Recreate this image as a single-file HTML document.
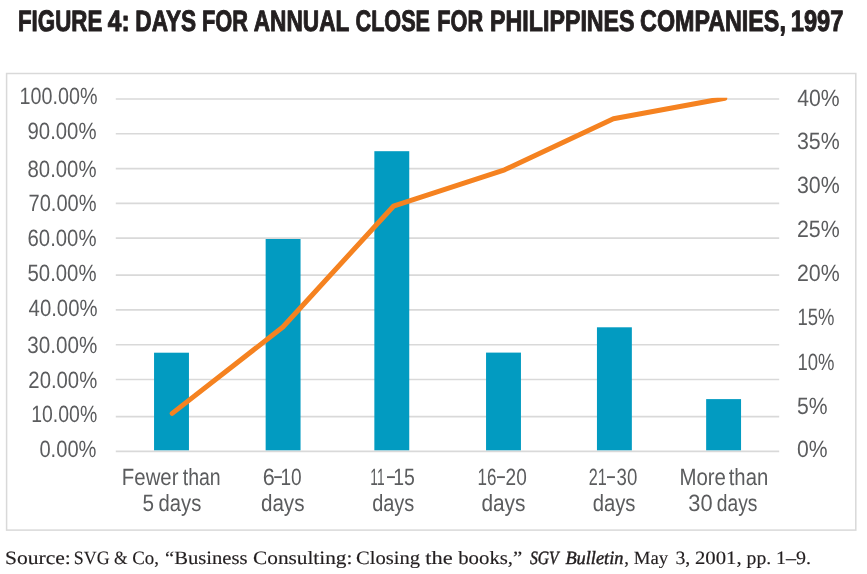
<!DOCTYPE html>
<html lang="en"><head><meta charset="utf-8"><title>Figure 4: Days for annual close for Philippines companies, 1997</title>
<style>html,body{margin:0;padding:0;background:#fff}svg{display:block}</style></head>
<body>
<svg width="867" height="574" viewBox="0 0 867 574" role="img" aria-label="Figure 4 chart">
<rect x="0" y="0" width="867" height="574" fill="#fff"/>
<defs><clipPath id="plot"><rect x="100" y="97.7" width="700" height="360"/></clipPath></defs>
<rect x="6.6" y="73.5" width="849.2" height="456.6" fill="none" stroke="#d9d9d9" stroke-width="1.5"/>
<g stroke="#d9d9d9" stroke-width="1.7">
<line x1="115.8" x2="779.2" y1="451.45" y2="451.45"/>
<line x1="115.8" x2="779.2" y1="416.70" y2="416.70"/>
<line x1="115.8" x2="779.2" y1="379.50" y2="379.50"/>
<line x1="115.8" x2="779.2" y1="344.75" y2="344.75"/>
<line x1="115.8" x2="779.2" y1="309.85" y2="309.85"/>
<line x1="115.8" x2="779.2" y1="275.20" y2="275.20"/>
<line x1="115.8" x2="779.2" y1="238.20" y2="238.20"/>
<line x1="115.8" x2="779.2" y1="203.30" y2="203.30"/>
<line x1="115.8" x2="779.2" y1="168.55" y2="168.55"/>
<line x1="115.8" x2="779.2" y1="133.75" y2="133.75"/>
<line x1="115.8" x2="779.2" y1="99.00" y2="99.00"/>
</g>
<g fill="#029bc1">
<rect x="154.05" y="352.70" width="34.9" height="97.60"/>
<rect x="265.65" y="239.00" width="34.9" height="211.30"/>
<rect x="374.35" y="151.20" width="34.9" height="299.10"/>
<rect x="486.05" y="352.60" width="34.9" height="97.70"/>
<rect x="596.95" y="327.30" width="34.9" height="123.00"/>
<rect x="706.15" y="399.10" width="34.9" height="51.20"/>
</g>
<polyline clip-path="url(#plot)" points="172.2,413.4 282.9,327.0 393.4,206.2 504.6,169.8 613.4,118.7 724.8,98.2" fill="none" stroke="#f58220" stroke-width="5.0" stroke-linejoin="round" stroke-linecap="round"/>
<text transform="translate(18.00 31.00) scale(0.7536 1.0000)" font-family="'Liberation Sans', sans-serif" font-size="29.6" fill="#231f20" text-rendering="geometricPrecision" font-weight="700" stroke="#231f20" stroke-width="1.0" stroke-linejoin="round" vector-effect="non-scaling-stroke">FIGURE</text>
<text transform="translate(107.80 31.00) scale(0.8292 1.0000)" font-family="'Liberation Sans', sans-serif" font-size="29.6" fill="#231f20" text-rendering="geometricPrecision" font-weight="700" stroke="#231f20" stroke-width="1.0" stroke-linejoin="round" vector-effect="non-scaling-stroke">4:</text>
<text transform="translate(135.28 31.00) scale(0.7648 1.0000)" font-family="'Liberation Sans', sans-serif" font-size="29.6" fill="#231f20" text-rendering="geometricPrecision" font-weight="700" stroke="#231f20" stroke-width="1.0" stroke-linejoin="round" vector-effect="non-scaling-stroke">DAYS</text>
<text transform="translate(201.92 31.00) scale(0.7377 1.0000)" font-family="'Liberation Sans', sans-serif" font-size="29.6" fill="#231f20" text-rendering="geometricPrecision" font-weight="700" stroke="#231f20" stroke-width="1.0" stroke-linejoin="round" vector-effect="non-scaling-stroke">FOR</text>
<text transform="translate(253.74 31.00) scale(0.7657 1.0000)" font-family="'Liberation Sans', sans-serif" font-size="29.6" fill="#231f20" text-rendering="geometricPrecision" font-weight="700" stroke="#231f20" stroke-width="1.0" stroke-linejoin="round" vector-effect="non-scaling-stroke">ANNUAL</text>
<text transform="translate(355.51 31.00) scale(0.7311 1.0000)" font-family="'Liberation Sans', sans-serif" font-size="29.6" fill="#231f20" text-rendering="geometricPrecision" font-weight="700" stroke="#231f20" stroke-width="1.0" stroke-linejoin="round" vector-effect="non-scaling-stroke">CLOSE</text>
<text transform="translate(437.22 31.00) scale(0.7344 1.0000)" font-family="'Liberation Sans', sans-serif" font-size="29.6" fill="#231f20" text-rendering="geometricPrecision" font-weight="700" stroke="#231f20" stroke-width="1.0" stroke-linejoin="round" vector-effect="non-scaling-stroke">FOR</text>
<text transform="translate(490.05 31.00) scale(0.7848 1.0000)" font-family="'Liberation Sans', sans-serif" font-size="29.6" fill="#231f20" text-rendering="geometricPrecision" font-weight="700" stroke="#231f20" stroke-width="1.0" stroke-linejoin="round" vector-effect="non-scaling-stroke">PHILIPPINES</text>
<text transform="translate(640.08 31.00) scale(0.7869 1.0000)" font-family="'Liberation Sans', sans-serif" font-size="29.6" fill="#231f20" text-rendering="geometricPrecision" font-weight="700" stroke="#231f20" stroke-width="1.0" stroke-linejoin="round" vector-effect="non-scaling-stroke">COMPANIES,</text>
<text transform="translate(790.73 31.00) scale(0.8010 1.0000)" font-family="'Liberation Sans', sans-serif" font-size="29.6" fill="#231f20" text-rendering="geometricPrecision" font-weight="700" stroke="#231f20" stroke-width="1.0" stroke-linejoin="round" vector-effect="non-scaling-stroke">1997</text>
<text transform="translate(19.60 104.00) scale(0.8391 1.0000)" font-family="'Liberation Sans', sans-serif" font-size="23.5" fill="#5b5c5e" text-rendering="geometricPrecision" >100.00%</text>
<text transform="translate(27.53 139.00) scale(0.8654 1.0000)" font-family="'Liberation Sans', sans-serif" font-size="23.5" fill="#5b5c5e" text-rendering="geometricPrecision" >90.00%</text>
<text transform="translate(27.53 177.00) scale(0.8654 1.0000)" font-family="'Liberation Sans', sans-serif" font-size="23.5" fill="#5b5c5e" text-rendering="geometricPrecision" >80.00%</text>
<text transform="translate(28.55 211.00) scale(0.8526 1.0000)" font-family="'Liberation Sans', sans-serif" font-size="23.5" fill="#5b5c5e" text-rendering="geometricPrecision" >70.00%</text>
<text transform="translate(27.53 246.00) scale(0.8654 1.0000)" font-family="'Liberation Sans', sans-serif" font-size="23.5" fill="#5b5c5e" text-rendering="geometricPrecision" >60.00%</text>
<text transform="translate(27.53 281.00) scale(0.8654 1.0000)" font-family="'Liberation Sans', sans-serif" font-size="23.5" fill="#5b5c5e" text-rendering="geometricPrecision" >50.00%</text>
<text transform="translate(28.62 316.00) scale(0.8643 1.0000)" font-family="'Liberation Sans', sans-serif" font-size="23.5" fill="#5b5c5e" text-rendering="geometricPrecision" >40.00%</text>
<text transform="translate(27.32 353.00) scale(0.8769 1.0000)" font-family="'Liberation Sans', sans-serif" font-size="23.5" fill="#5b5c5e" text-rendering="geometricPrecision" >30.00%</text>
<text transform="translate(28.34 388.00) scale(0.8641 1.0000)" font-family="'Liberation Sans', sans-serif" font-size="23.5" fill="#5b5c5e" text-rendering="geometricPrecision" >20.00%</text>
<text transform="translate(31.22 422.00) scale(0.8276 1.0000)" font-family="'Liberation Sans', sans-serif" font-size="23.5" fill="#5b5c5e" text-rendering="geometricPrecision" >10.00%</text>
<text transform="translate(39.44 457.00) scale(0.8554 1.0000)" font-family="'Liberation Sans', sans-serif" font-size="23.5" fill="#5b5c5e" text-rendering="geometricPrecision" >0.00%</text>
<text transform="translate(797.20 106.00) scale(0.9022 1.0000)" font-family="'Liberation Sans', sans-serif" font-size="23.5" fill="#5b5c5e" text-rendering="geometricPrecision" >40%</text>
<text transform="translate(796.89 149.00) scale(0.9088 1.0000)" font-family="'Liberation Sans', sans-serif" font-size="23.5" fill="#5b5c5e" text-rendering="geometricPrecision" >35%</text>
<text transform="translate(796.89 193.00) scale(0.9088 1.0000)" font-family="'Liberation Sans', sans-serif" font-size="23.5" fill="#5b5c5e" text-rendering="geometricPrecision" >30%</text>
<text transform="translate(796.89 237.00) scale(0.9088 1.0000)" font-family="'Liberation Sans', sans-serif" font-size="23.5" fill="#5b5c5e" text-rendering="geometricPrecision" >25%</text>
<text transform="translate(796.89 281.00) scale(0.9088 1.0000)" font-family="'Liberation Sans', sans-serif" font-size="23.5" fill="#5b5c5e" text-rendering="geometricPrecision" >20%</text>
<text transform="translate(797.39 325.00) scale(0.7858 1.0000)" font-family="'Liberation Sans', sans-serif" font-size="23.5" fill="#5b5c5e" text-rendering="geometricPrecision" >15%</text>
<text transform="translate(797.39 370.00) scale(0.7858 1.0000)" font-family="'Liberation Sans', sans-serif" font-size="23.5" fill="#5b5c5e" text-rendering="geometricPrecision" >10%</text>
<text transform="translate(796.90 414.00) scale(0.9000 1.0000)" font-family="'Liberation Sans', sans-serif" font-size="23.5" fill="#5b5c5e" text-rendering="geometricPrecision" >5%</text>
<text transform="translate(796.90 457.00) scale(0.9000 1.0000)" font-family="'Liberation Sans', sans-serif" font-size="23.5" fill="#5b5c5e" text-rendering="geometricPrecision" >0%</text>
<text transform="translate(262.68 485.00) scale(0.9182 1.0000)" font-family="'Liberation Sans', sans-serif" font-size="23.5" fill="#5b5c5e" text-rendering="geometricPrecision" >6</text>
<text transform="translate(274.20 484.00) scale(0.5846 1.1500)" font-family="'Liberation Sans', sans-serif" font-size="23.5" fill="#5b5c5e" text-rendering="geometricPrecision" >–</text>
<text transform="translate(280.45 485.00) scale(0.8113 1.0000)" font-family="'Liberation Sans', sans-serif" font-size="23.5" fill="#5b5c5e" text-rendering="geometricPrecision" >10</text>
<text transform="translate(370.32 485.00) scale(0.5862 1.0000)" font-family="'Liberation Sans', sans-serif" font-size="23.5" fill="#5b5c5e" text-rendering="geometricPrecision" >11</text>
<text transform="translate(386.90 484.00) scale(0.6077 1.1500)" font-family="'Liberation Sans', sans-serif" font-size="23.5" fill="#5b5c5e" text-rendering="geometricPrecision" >–</text>
<text transform="translate(393.22 485.00) scale(0.8282 1.0000)" font-family="'Liberation Sans', sans-serif" font-size="23.5" fill="#5b5c5e" text-rendering="geometricPrecision" >15</text>
<text transform="translate(477.49 485.00) scale(0.7243 1.0000)" font-family="'Liberation Sans', sans-serif" font-size="23.5" fill="#5b5c5e" text-rendering="geometricPrecision" >16</text>
<text transform="translate(496.90 484.00) scale(0.6077 1.1500)" font-family="'Liberation Sans', sans-serif" font-size="23.5" fill="#5b5c5e" text-rendering="geometricPrecision" >–</text>
<text transform="translate(505.59 485.00) scale(0.8096 1.0000)" font-family="'Liberation Sans', sans-serif" font-size="23.5" fill="#5b5c5e" text-rendering="geometricPrecision" >20</text>
<text transform="translate(588.71 485.00) scale(0.6875 1.0000)" font-family="'Liberation Sans', sans-serif" font-size="23.5" fill="#5b5c5e" text-rendering="geometricPrecision" >21</text>
<text transform="translate(606.90 484.00) scale(0.6077 1.1500)" font-family="'Liberation Sans', sans-serif" font-size="23.5" fill="#5b5c5e" text-rendering="geometricPrecision" >–</text>
<text transform="translate(616.61 485.00) scale(0.7932 1.0000)" font-family="'Liberation Sans', sans-serif" font-size="23.5" fill="#5b5c5e" text-rendering="geometricPrecision" >30</text>
<text transform="translate(121.87 485.00) scale(0.8667 1.0000)" font-family="'Liberation Sans', sans-serif" font-size="23.5" fill="#5b5c5e" text-rendering="geometricPrecision" >Fewer</text>
<text transform="translate(182.72 485.00) scale(0.8295 1.0000)" font-family="'Liberation Sans', sans-serif" font-size="23.5" fill="#5b5c5e" text-rendering="geometricPrecision" >than</text>
<text transform="translate(142.52 511.00) scale(0.8818 1.0000)" font-family="'Liberation Sans', sans-serif" font-size="23.5" fill="#5b5c5e" text-rendering="geometricPrecision" >5</text>
<text transform="translate(158.54 511.00) scale(0.8604 1.0000)" font-family="'Liberation Sans', sans-serif" font-size="23.5" fill="#5b5c5e" text-rendering="geometricPrecision" >days</text>
<text transform="translate(260.92 511.00) scale(0.8771 1.0000)" font-family="'Liberation Sans', sans-serif" font-size="23.5" fill="#5b5c5e" text-rendering="geometricPrecision" >days</text>
<text transform="translate(372.15 511.00) scale(0.8500 1.0000)" font-family="'Liberation Sans', sans-serif" font-size="23.5" fill="#5b5c5e" text-rendering="geometricPrecision" >days</text>
<text transform="translate(481.41 511.00) scale(0.8875 1.0000)" font-family="'Liberation Sans', sans-serif" font-size="23.5" fill="#5b5c5e" text-rendering="geometricPrecision" >days</text>
<text transform="translate(592.64 511.00) scale(0.8625 1.0000)" font-family="'Liberation Sans', sans-serif" font-size="23.5" fill="#5b5c5e" text-rendering="geometricPrecision" >days</text>
<text transform="translate(679.46 485.00) scale(0.8684 1.0000)" font-family="'Liberation Sans', sans-serif" font-size="23.5" fill="#5b5c5e" text-rendering="geometricPrecision" >More</text>
<text transform="translate(728.71 485.00) scale(0.8636 1.0000)" font-family="'Liberation Sans', sans-serif" font-size="23.5" fill="#5b5c5e" text-rendering="geometricPrecision" >than</text>
<text transform="translate(688.37 511.00) scale(0.9288 1.0000)" font-family="'Liberation Sans', sans-serif" font-size="23.5" fill="#5b5c5e" text-rendering="geometricPrecision" >30</text>
<text transform="translate(716.78 511.00) scale(0.8187 1.0000)" font-family="'Liberation Sans', sans-serif" font-size="23.5" fill="#5b5c5e" text-rendering="geometricPrecision" >days</text>
<text transform="translate(4.95 564.00) scale(1.1473 1.0000)" font-family="'Liberation Serif', serif" font-size="18.8" fill="#231f20" text-rendering="geometricPrecision" stroke="#231f20" stroke-width="0.15">Source:</text>
<text transform="translate(73.75 564.00) scale(0.9528 1.0000)" font-family="'Liberation Serif', serif" font-size="18.8" fill="#231f20" text-rendering="geometricPrecision" stroke="#231f20" stroke-width="0.15">SVG</text>
<text transform="translate(113.88 564.00) scale(0.9293 1.0000)" font-family="'Liberation Serif', serif" font-size="18.8" fill="#231f20" text-rendering="geometricPrecision" stroke="#231f20" stroke-width="0.15">&amp;</text>
<text transform="translate(132.13 564.00) scale(1.0040 1.0000)" font-family="'Liberation Serif', serif" font-size="18.8" fill="#231f20" text-rendering="geometricPrecision" stroke="#231f20" stroke-width="0.15">Co,</text>
<text transform="translate(164.97 564.00) scale(1.0986 1.0000)" font-family="'Liberation Serif', serif" font-size="18.8" fill="#231f20" text-rendering="geometricPrecision" stroke="#231f20" stroke-width="0.15">“Business</text>
<text transform="translate(253.04 564.00) scale(1.1335 1.0000)" font-family="'Liberation Serif', serif" font-size="18.8" fill="#231f20" text-rendering="geometricPrecision" stroke="#231f20" stroke-width="0.15">Consulting:</text>
<text transform="translate(356.07 564.00) scale(1.0960 1.0000)" font-family="'Liberation Serif', serif" font-size="18.8" fill="#231f20" text-rendering="geometricPrecision" stroke="#231f20" stroke-width="0.15">Closing</text>
<text transform="translate(425.30 564.00) scale(1.1955 1.0000)" font-family="'Liberation Serif', serif" font-size="18.8" fill="#231f20" text-rendering="geometricPrecision" stroke="#231f20" stroke-width="0.15">the</text>
<text transform="translate(458.20 564.00) scale(1.1070 1.0000)" font-family="'Liberation Serif', serif" font-size="18.8" fill="#231f20" text-rendering="geometricPrecision" stroke="#231f20" stroke-width="0.15">books,”</text>
<text transform="translate(529.90 564.00) scale(0.8339 1.0000)" font-family="'Liberation Serif', serif" font-size="18.8" fill="#231f20" text-rendering="geometricPrecision" font-style="italic" stroke="#231f20" stroke-width="0.45">SGV</text>
<text transform="translate(565.40 564.00) scale(0.9763 1.0000)" font-family="'Liberation Serif', serif" font-size="18.8" fill="#231f20" text-rendering="geometricPrecision" font-style="italic" stroke="#231f20" stroke-width="0.45">Bulletin</text>
<text transform="translate(624.33 564.00) scale(0.9992 1.0000)" font-family="'Liberation Serif', serif" font-size="18.8" fill="#231f20" text-rendering="geometricPrecision" stroke="#231f20" stroke-width="0.15">, May</text>
<text transform="translate(675.40 564.00) scale(1.0541 1.0000)" font-family="'Liberation Serif', serif" font-size="18.8" fill="#231f20" text-rendering="geometricPrecision" stroke="#231f20" stroke-width="0.15">3,</text>
<text transform="translate(694.96 564.00) scale(1.1041 1.0000)" font-family="'Liberation Serif', serif" font-size="18.8" fill="#231f20" text-rendering="geometricPrecision" stroke="#231f20" stroke-width="0.15">2001,</text>
<text transform="translate(746.60 564.00) scale(1.0478 1.0000)" font-family="'Liberation Serif', serif" font-size="18.8" fill="#231f20" text-rendering="geometricPrecision" stroke="#231f20" stroke-width="0.15">pp.</text>
<text transform="translate(776.02 564.00) scale(1.0667 1.0000)" font-family="'Liberation Serif', serif" font-size="18.8" fill="#231f20" text-rendering="geometricPrecision" stroke="#231f20" stroke-width="0.15">1–9.</text>
</svg>
</body></html>
